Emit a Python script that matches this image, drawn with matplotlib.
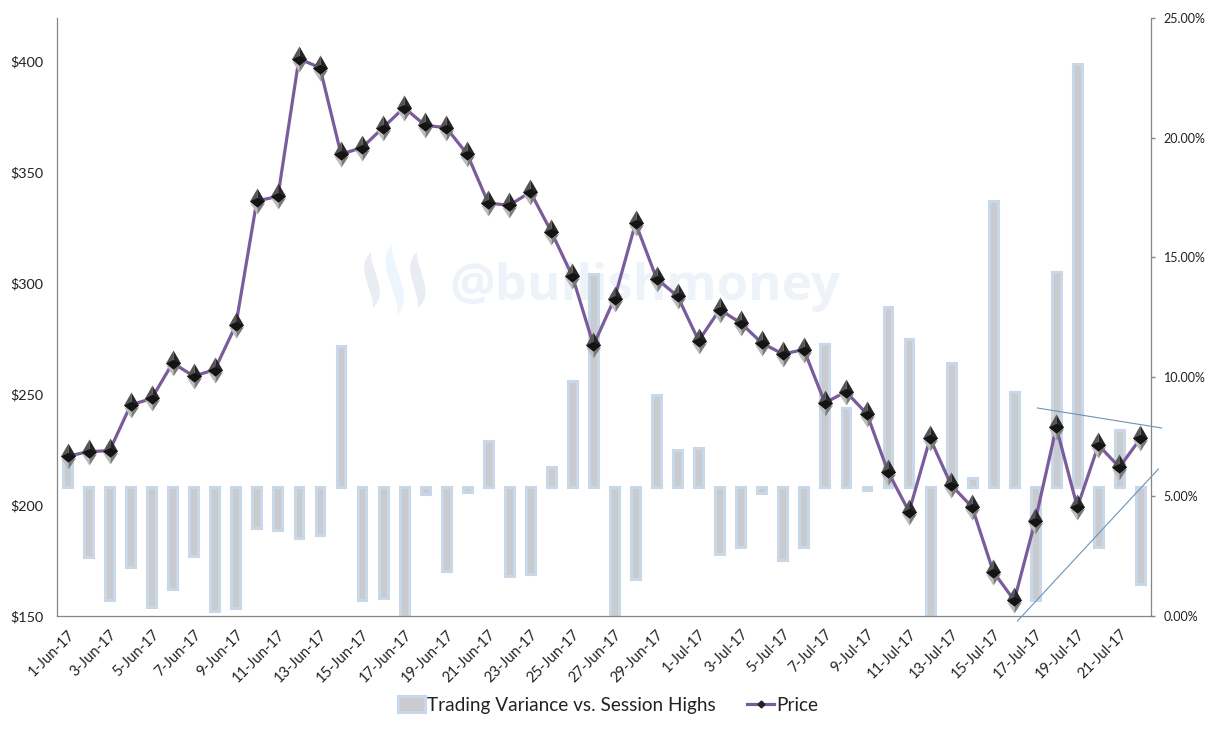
import matplotlib
matplotlib.use("Agg")
import matplotlib.pyplot as plt
from matplotlib.path import Path
from matplotlib.patches import PathPatch, Patch
from matplotlib.lines import Line2D

plt.rcParams['font.family'] = ['Lato', 'DejaVu Sans']

dates = [f"{d}-Jun-17" for d in range(1, 31)] + [f"{d}-Jul-17" for d in range(1, 23)]
price = [222, 224, 224.5, 245, 248, 264, 258, 261, 281, 337, 339, 401, 397, 358, 361, 370,
         379, 371, 370, 358, 336, 335, 341, 323, 303, 272, 293, 327, 302, 294, 274, 288,
         282, 273, 268, 270, 246, 251, 241, 215, 197, 230, 209, 199, 170, 157, 193, 235,
         199, 227, 217, 230]
variance = [6.5, 2.47, 0.67, 2.05, 0.38, 1.13, 2.5, 0.2, 0.33, 3.68, 3.6, 3.26, 3.39, 11.29,
            0.67, 0.75, -0.5, 5.1, 1.88, 5.2, 7.3, 1.67, 1.76, 6.23, 9.82, 14.3, -0.5, 1.55,
            9.24, 6.94, 7.02, 2.6, 2.88, 5.14, 2.34, 2.88, 11.37, 8.7, 5.27, 12.9, 11.6, -0.5,
            10.58, 5.77, 17.35, 9.36, 0.67, 14.38, 23.08, 2.88, 7.78, 1.34]
variance_base = 5.39
upper_trend_x = [46.10, 52.00]
upper_trend_y = [243.7, 234.7]
lower_trend_x = [45.15, 51.85]
lower_trend_y = [147.7, 216.2]
price_ticks = [150, 200, 250, 300, 350, 400]
pct_ticks = [0, 5, 10, 15, 20, 25]

W, H = 1212, 731
fig = plt.figure(figsize=(W / 100, H / 100), dpi=100, facecolor='white')
rect = [57 / W, 1 - 616 / H, (1151 - 57) / W, (616 - 18) / H]

GREY = '#868686'
ax2 = fig.add_axes(rect)
ax = fig.add_axes(rect, sharex=ax2)
ax2.set_zorder(1)
ax.set_zorder(2)
ax.patch.set_visible(False)
ax2.patch.set_visible(False)

x = list(range(len(dates)))
ax2.bar(x, [v - variance_base for v in variance], bottom=variance_base, width=0.42,
        facecolor='#c9cbce', edgecolor='#c8d8e8', linewidth=2.2, zorder=2)
ax2.set_ylim(0, 25)
ax2.set_yticks(pct_ticks)
ax2.set_yticklabels([f"{t:.2f}%" for t in pct_ticks], fontsize=9.0, color='#222222')
ax2.yaxis.tick_right()
ax2.tick_params(axis='y', length=3, width=1, color=GREY, pad=6)
ax2.tick_params(axis='x', bottom=False, labelbottom=False)

ax.plot(x, price, color='#7a5c9c', lw=2.3, zorder=3, solid_joinstyle='round')

# Ether-diamond marker, layered from facets in pixel units (y up, centre on the line)
def facet(pts):
    verts = [(0, 14), (0, 14)] + pts + [pts[0]]
    codes = [Path.MOVETO, Path.LINETO, Path.MOVETO] + [Path.LINETO] * (len(pts) - 1) + [Path.CLOSEPOLY]
    return Path(verts, codes)

facets = [
    ([(0, -13), (-7.5, -1.5), (0, -4), (0, -13)], '#bcbcbc'),
    ([(0, -13), (7.5, -1.5), (0, -4)], '#7a7a7a'),
    ([(0, 13), (-7.5, 0), (0, -6)], '#555555'),
    ([(0, 13), (7.5, 0), (0, -6)], '#262626'),
    ([(-7.5, 0), (0, 3.5), (7.5, 0), (0, -6)], '#141414'),
]
for i, (pts, col) in enumerate(facets):
    ax.plot(x, price, ls='none', marker=facet(pts), ms=14 * 2 * 0.72, mfc=col, mec='none', zorder=4 + i * 0.1)

ax.plot(upper_trend_x, upper_trend_y, color='#6b93b8', lw=0.8, clip_on=False, zorder=6)
ax.plot(lower_trend_x, lower_trend_y, color='#6b93b8', lw=0.8, clip_on=False, zorder=6)

ax.set_xlim(-0.5, len(dates) - 0.5)
ax.set_ylim(150, 150 + (616 - 18) / 2.22)
ax.set_yticks(price_ticks)
ax.set_yticklabels([f"${t}" for t in price_ticks], fontsize=10.4, color='#222222')
ax.tick_params(axis='y', length=0, pad=10)
ax.set_xticks(x[::2])
ax.set_xticklabels(dates[::2], rotation=45, ha='right', rotation_mode='anchor', fontsize=10.6, color='#222222')
ax.tick_params(axis='x', length=0, pad=8)

ax2.spines['top'].set_visible(False)
ax.spines['top'].set_visible(False)
ax.spines['right'].set_visible(False)
ax2.spines['left'].set_visible(False)
ax2.spines['bottom'].set_visible(False)
for sp in (ax.spines['left'], ax.spines['bottom'], ax2.spines['right']):
    sp.set_color(GREY)
    sp.set_linewidth(0.9)

# Watermark
def px(xp, yp):
    return (xp / W, 1 - yp / H)

def swoosh(top, lx, rx, bottom, col):
    tx, ty = top
    bx, by = bottom
    h = by - ty
    verts = [top,
             (lx - 8, ty + 0.28 * h), (rx - 8, by - 0.32 * h), bottom,
             (rx + 8, by - 0.28 * h), (lx + 8, ty + 0.32 * h), top]
    verts = [px(*v) for v in verts]
    codes = [Path.MOVETO] + [Path.CURVE4] * 6
    fig.add_artist(PathPatch(Path(verts, codes), transform=fig.transFigure, facecolor=col,
                             edgecolor='none', zorder=-1))

swoosh((371, 252), 362, 382, (373, 308), '#e9edf3')
swoosh((392, 244), 382, 408, (397, 315), '#eef6fd')
swoosh((417, 252), 408, 428, (418, 308), '#e9edf3')
fig.text(*px(450, 300), '@bullishmoney', fontsize=36.8, fontweight='bold', family='Open Sans',
         color='#eef3fa', ha='left', va='baseline', zorder=-1)

# Legend
leg_bar = Patch(facecolor='#c9cbce', edgecolor='#c8d8e8', linewidth=2.2)
leg_line = Line2D([], [], color='#7a5c9c', lw=2.3, marker='D', ms=3.5, mfc='#222222', mec='#222222')
leg = fig.legend([leg_bar, leg_line], ['Trading Variance vs. Session Highs', 'Price'],
                 ncol=2, loc='center', bbox_to_anchor=px(608, 705), frameon=False, fontsize=13.7,
                 handlelength=1.42, handleheight=0.85, handletextpad=0.08, columnspacing=1.68,
                 labelcolor='#222222')

fig.savefig('out.png', dpi=100)
